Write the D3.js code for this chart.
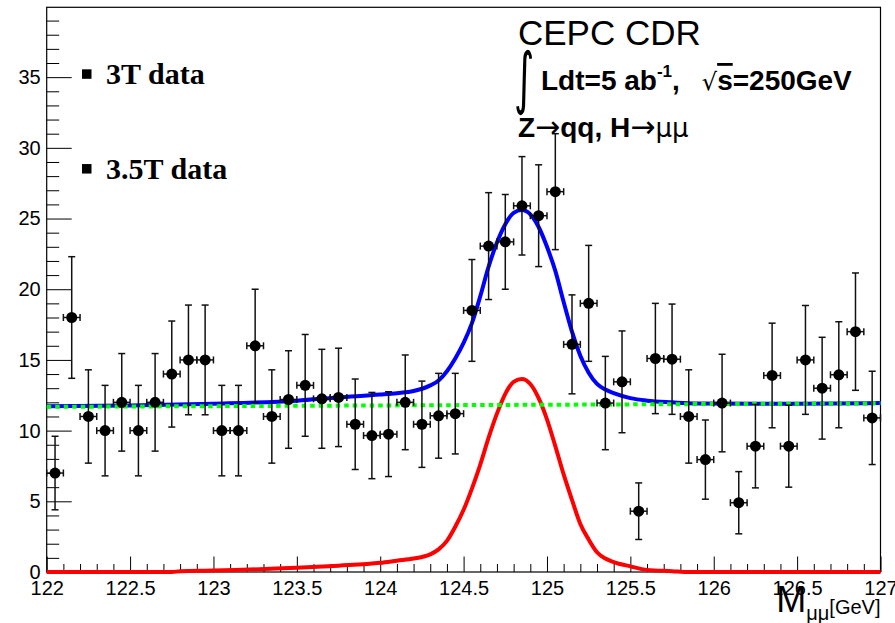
<!DOCTYPE html>
<html>
<head>
<meta charset="utf-8">
<script src="https://cdn.jsdelivr.net/npm/d3@7"></script>
<style>
body{margin:0;background:#fff;}
svg text{font-family:"Liberation Sans",Arial,sans-serif;fill:#000;}
</style>
</head>
<body>
<svg id="chart" width="895" height="623"></svg>
<script>
// bin centres (0.1 GeV bins, 122 - 127)
let binCenters = [122.05,122.15,122.25,122.35,122.45,122.55,122.65,122.75,122.85,122.95,
  123.05,123.15,123.25,123.35,123.45,123.55,123.65,123.75,123.85,123.95,
  124.05,124.15,124.25,124.35,124.45,124.55,124.65,124.75,124.85,124.95,
  125.05,125.15,125.25,125.35,125.45,125.55,125.65,125.75,125.85,125.95,
  126.05,126.15,126.25,126.35,126.45,126.55,126.65,126.75,126.85,126.95];
let counts = [7,18,11,10,12,10,12,14,15,15,
  10,10,16,11,12.2,13.2,12.25,12.35,10.45,9.65,
  9.75,12,10.45,11.05,11.2,18.5,23.05,23.35,25.9,25.2,
  26.9,16.1,19,11.95,13.45,4.3,15.1,15.05,11,7.95,
  11.95,4.9,8.9,13.9,8.9,15,13,13.95,17,10.9];
let errors = [2.6,4.3,3.3,3.2,3.45,3.2,3.45,3.75,3.88,3.88,
  3.2,3.2,4,3.3,3.45,3.6,3.5,3.48,3.2,3.05,
  3,3.35,3.05,3,2.85,3.6,3.78,3.35,3.48,3.6,
  4.1,3.5,4.1,3.3,3.6,2,3.9,3.9,3.3,2.8,
  3.45,2.2,2.95,3.7,2.9,3.85,3.6,3.75,4.15,3.3];

// fitted signal (red)
let sigX = [122,122.75,122.8,123,123.5,123.75,124,124.1,124.2,124.3,124.35,124.4,124.45,124.5,124.55,124.6,124.65,124.7,124.75,124.8,124.85,124.9,124.95,125,125.05,125.1,125.15,125.2,125.25,125.3,125.35,125.4,125.5,125.6,125.75,125.85,127];
let sigY = [0,0,0.05,0.1,0.3,0.45,0.65,0.8,0.95,1.25,1.6,2.2,3.2,4.4,5.9,7.6,9.5,11.2,12.6,13.45,13.65,13.3,12.3,10.8,8.9,6.9,5.1,3.4,2.3,1.4,0.95,0.7,0.4,0.15,0.06,0,0];
// signal + background (blue)
let totX = [122,122.5,123,123.5,123.75,124,124.1,124.2,124.3,124.35,124.4,124.45,124.5,124.55,124.6,124.65,124.7,124.75,124.8,124.85,124.9,124.95,125,125.05,125.1,125.15,125.2,125.25,125.3,125.35,125.4,125.5,125.6,125.75,125.9,126.5,127];
let totY = [11.72,11.78,11.9,12.12,12.35,12.55,12.65,12.8,13.2,13.55,14.2,15.1,16.2,17.6,19.5,21.6,23.3,24.6,25.4,25.6,25.3,24.4,23,21.3,19.1,17,15.3,14.1,13.3,12.9,12.65,12.3,12.12,12,11.92,11.9,11.95];
// background only (green)
let bkgX = [122,127];
let bkgY = [11.68,11.93];

let xTicks = [122,122.5,123,123.5,124,124.5,125,125.5,126,126.5,127];
let yTicks = [0,5,10,15,20,25,30,35];
let legendLabels = ["3T data","3.5T data"];

let margin = {top: 7.3, right: 14.5, bottom: 51, left: 46.7};
let width = 895, height = 623;

let svg = d3.select('#chart');

let x = d3.scaleLinear().domain([122,127]).range([margin.left, width - margin.right]);
let y = d3.scaleLinear().domain([0,39.94]).range([height - margin.bottom, margin.top]);

// minor ticks
let xMinor = d3.range(1220,1271).map(d => d/10).filter(d => xTicks.indexOf(d) < 0);
let yMinor = d3.range(0,40).filter(d => yTicks.indexOf(d) < 0);

svg.append('g')
  .attr('transform', `translate(0,${y(0)})`)
  .call(d3.axisBottom(x).tickValues(xMinor).tickSize(-8).tickFormat(''))
  .call(g => g.select('.domain').remove());
svg.append('g')
  .attr('class','xAxis')
  .attr('transform', `translate(0,${y(0)})`)
  .call(d3.axisBottom(x).tickValues(xTicks).tickSize(-15.5).tickPadding(9).tickFormat(d3.format('')))
  .call(g => g.select('.domain').remove());

svg.append('g')
  .attr('transform', `translate(${x(122)},0)`)
  .call(d3.axisLeft(y).tickValues(yMinor).tickSize(-12.5).tickFormat(''))
  .call(g => g.select('.domain').remove());
svg.append('g')
  .attr('class','yAxis')
  .attr('transform', `translate(${x(122)},0)`)
  .call(d3.axisLeft(y).tickValues(yTicks).tickSize(-25).tickPadding(6))
  .call(g => g.select('.domain').remove());

svg.selectAll('.tick line').attr('stroke','#000').attr('stroke-width',1);
svg.selectAll('.tick text').style('font-size','20px').attr('fill','#000');

// frame
svg.append('rect')
  .attr('x', x(122)).attr('y', y(39.94))
  .attr('width', x(127) - x(122)).attr('height', y(0) - y(39.94))
  .attr('fill','none').attr('stroke','#000').attr('stroke-width',1.2);

// fit curves
let line = d3.line().x(d => x(d[0])).y(d => y(d[1])).curve(d3.curveMonotoneX);
svg.append('path')
  .datum(d3.zip(sigX, sigY))
  .attr('d', line)
  .attr('fill','none').attr('stroke','#ff0000').attr('stroke-width',4);
svg.append('path')
  .datum(d3.zip(totX, totY))
  .attr('d', line)
  .attr('fill','none').attr('stroke','#0000ff').attr('stroke-width',4);
svg.append('path')
  .datum(d3.zip(bkgX, bkgY))
  .attr('d', line)
  .attr('fill','none').attr('stroke','#00ff00').attr('stroke-width',4)
  .attr('stroke-dasharray','4.5,4');

// data points with error bars
let pts = binCenters.map((c,i) => ({c: c, v: counts[i], e: errors[i]}));
let pg = svg.append('g').attr('stroke','#111').attr('stroke-width',1.5);
pts.forEach(d => {
  let cx = x(d.c), cy = y(d.v);
  let top = y(d.v + d.e), bot = y(Math.max(0, d.v - d.e));
  let l = x(d.c - 0.05), r = x(d.c + 0.05);
  pg.append('line').attr('x1',cx).attr('x2',cx).attr('y1',top).attr('y2',bot);
  pg.append('line').attr('x1',cx-3.5).attr('x2',cx+3.5).attr('y1',top).attr('y2',top);
  pg.append('line').attr('x1',cx-3.5).attr('x2',cx+3.5).attr('y1',bot).attr('y2',bot);
  pg.append('line').attr('x1',l).attr('x2',r).attr('y1',cy).attr('y2',cy);
  pg.append('line').attr('x1',l).attr('x2',l).attr('y1',cy-3.5).attr('y2',cy+3.5);
  pg.append('line').attr('x1',r).attr('x2',r).attr('y1',cy-3.5).attr('y2',cy+3.5);
});
svg.append('g').selectAll('circle')
  .data(pts).enter().append('circle')
  .attr('cx', d => x(d.c)).attr('cy', d => y(d.v))
  .attr('r', 5.5).attr('fill','#000');

// legend
let leg = svg.append('g');
legendLabels.forEach((t,i) => {
  let yy = i == 0 ? y(35.2) : y(28.5);
  leg.append('rect').attr('x',82).attr('y',yy-5).attr('width',9.5).attr('height',9.5).attr('fill','#000');
  leg.append('text').attr('x',106).attr('y',yy+10)
    .style('font-family','"Liberation Serif",serif').style('font-weight','bold').style('font-size','30px')
    .text(t);
});

// labels top right
svg.append('text').attr('x',518).attr('y',45).style('font-size','35px').text('CEPC CDR');
svg.append('text').attr('transform','translate(514,101) scale(0.75,1.3)')
  .style('font-family','"DejaVu Sans",sans-serif').style('font-size','52px').text('\u222B');
let t2 = svg.append('text').attr('x',541).attr('y',90).style('font-size','28px').style('font-weight','bold');
t2.append('tspan').text('Ldt=5 ab');
t2.append('tspan').attr('dy',-13).style('font-size','17px').text('-1');
t2.append('tspan').attr('dy',13).text(',');
t2.append('tspan').attr('dx',22).style('font-weight','normal').style('font-family','"DejaVu Sans",sans-serif').style('font-size','24px').text('\u221A');
t2.append('tspan').style('text-decoration','overline').text('s');
t2.append('tspan').text('=250GeV');
let t3 = svg.append('text').attr('x',518).attr('y',137).style('font-size','28px').style('font-weight','bold');
t3.append('tspan').text('Z');
t3.append('tspan').style('font-weight','normal').style('font-family','"DejaVu Sans",sans-serif').style('font-size','30px').text('\u2192');
t3.append('tspan').text('qq, H');
t3.append('tspan').style('font-weight','normal').style('font-family','"DejaVu Sans",sans-serif').style('font-size','30px').text('\u2192');
t3.append('tspan').style('font-weight','normal').style('font-family','"DejaVu Sans",sans-serif').style('font-size','26px').text('\u03BC\u03BC');

// axis title
let xt = svg.append('text').attr('x',x(127)).attr('y',612).attr('text-anchor','end');
xt.append('tspan').style('font-size','36px').text('M');
xt.append('tspan').attr('dy',8).style('font-size','20px').text('\u03BC\u03BC');
xt.append('tspan').attr('dy',-6).style('font-size','20px').text('[GeV]');
</script>
</body>
</html>
